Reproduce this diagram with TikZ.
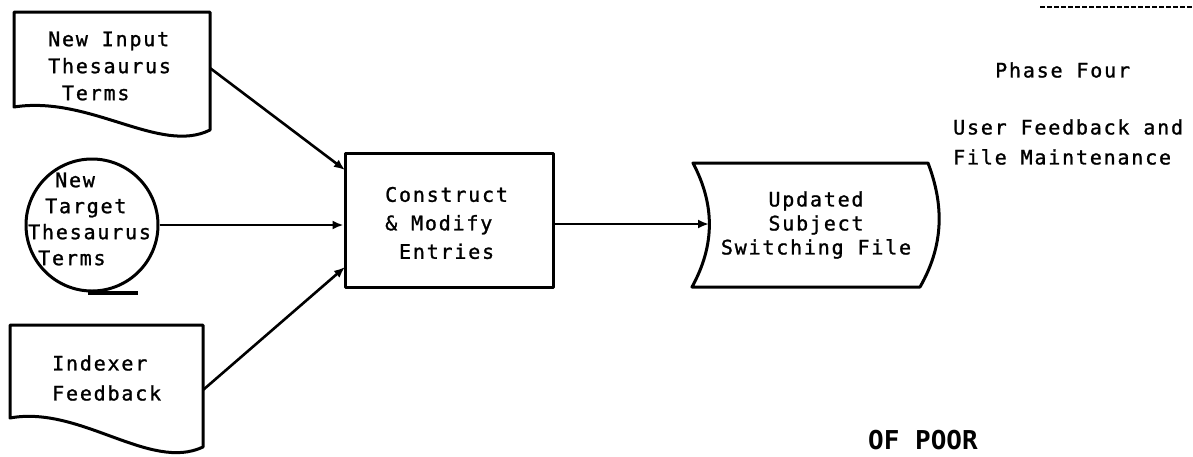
\documentclass[tikz,border=0pt]{standalone}
\usepackage{fontspec}
\usetikzlibrary{arrows.meta}
\newfontfamily\tw{DejaVu Sans Mono}[LetterSpace=9,FakeBold=1.2]
\newfontfamily\stampfont{DejaVu Sans Mono}
\begin{document}
\begin{tikzpicture}[x=1pt,y=-1pt,
  outline/.style={draw=black,line width=3pt,line join=round},
  label/.style={font=\tw\fontsize{20pt}{27pt}\selectfont,inner sep=0pt},
  flow/.style={line width=2.6pt,-{Latex[length=11pt,width=9pt]}}]
\useasboundingbox[fill=white] (0,0) rectangle (1193,456);

% punched-card style document: new input thesaurus terms
\draw[outline] (14,12) -- (210,12) -- (210,130)
  .. controls (160,155) and (90,95) .. (14,107) -- cycle;
\node[label,align=left,anchor=west] (inA) at (48,66)
  {New Input\\Thesaurus\\\ Terms};
\coordinate (inAout) at (210,68);

% circular source with tail: new target thesaurus terms
\node[outline,circle,minimum size=132pt,inner sep=0pt] (tgt) at (92,225) {};
\draw[outline,line width=4pt] (tgt.south) ++(-4,0) -- ++(50,0);
\node[label,align=left,anchor=west,font=\tw\fontsize{20pt}{26pt}\selectfont] (tgtT) at (28,219)
  {\hspace*{27pt}New\\\hspace*{17pt}Target\\Thesaurus\\\hspace*{10pt}Terms};

% document: indexer feedback
\draw[outline] (10,325) -- (203,325) -- (203,447)
  .. controls (150,472) and (80,405) .. (10,418) -- cycle;
\node[label,align=left,anchor=west,font=\tw\fontsize{20pt}{30pt}\selectfont] (idx) at (52,378)
  {Indexer\\Feedback};
\coordinate (idxout) at (203,390);

% process box
\node[outline,rectangle,minimum width=208pt,minimum height=134pt,inner sep=0pt] (proc) at (449,220) {};
\node[label,align=left,anchor=west,font=\tw\fontsize{20pt}{28.5pt}\selectfont] (procT) at (385,223)
  {Construct\\\& Modify\\\ Entries};
\coordinate (procA) at (345,170);
\coordinate (procC) at (345,267);

% stored data file with bowed sides
\draw[outline] (693,163) -- (928,163)
  .. controls (944,205) and (944,245) .. (920,287) -- (692,287)
  .. controls (715,245) and (715,205) .. (693,163) -- cycle;
\node[label,align=center,font=\tw\fontsize{20pt}{24pt}\selectfont] (file) at (816,225)
  {Updated\\Subject\\Switching File};
\coordinate (fileIn) at (709,224);

% connectors
\draw[flow] (inAout) -- (procA);
\draw[flow] (tgt.east) -- (proc.west |- tgt.east);
\draw[flow] (idxout) -- (procC);
\draw[flow] (proc.east |- fileIn) -- (fileIn);

% phase caption
\node[label,anchor=west] (phase) at (995,70) {Phase Four};
\node[label,align=left,anchor=west,font=\tw\fontsize{20pt}{30pt}\selectfont] (phaseSub) at (953,142)
  {User Feedback and\\File Maintenance};

% page furniture
\draw[line width=2.5pt,dash pattern=on 5pt off 2pt] (1040,7) coordinate (rule1) -- (1193,7) coordinate (rule2);
\node[font=\stampfont\bfseries\fontsize{26pt}{26pt}\selectfont,inner sep=0pt,anchor=west] (stamp) at (868,440) {OF POOR};
\end{tikzpicture}
\end{document}
